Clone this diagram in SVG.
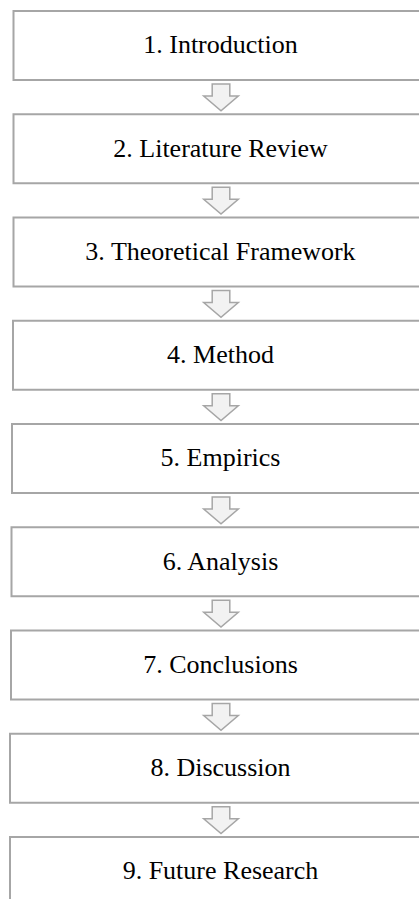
<svg xmlns="http://www.w3.org/2000/svg" width="419" height="899" viewBox="0 0 419 899">
<defs>
<style>
.box{fill:#ffffff;stroke:#a6a6a6;stroke-width:2}
.lbl{font-family:"Liberation Serif","Times New Roman",serif;font-size:26px;fill:#000000;text-anchor:middle}
.arr{fill:#f2f2f2;stroke:#a6a6a6;stroke-width:1.5;stroke-linejoin:miter}
</style>
<path id="dn" class="arr" d="M-8.8,0 H8.8 V12 H17.3 L0,26.7 L-17.3,12 H-8.8 Z"/>
</defs>
<rect width="419" height="899" fill="#ffffff"/>
<g id="connectors">
<use href="#dn" x="221" y="84"/>
<use href="#dn" x="221" y="187.25"/>
<use href="#dn" x="221" y="290.5"/>
<use href="#dn" x="221" y="393.75"/>
<use href="#dn" x="221" y="497"/>
<use href="#dn" x="221" y="600.25"/>
<use href="#dn" x="221" y="703.5"/>
<use href="#dn" x="221" y="806.75"/>
</g>
<g id="n1"><rect class="box" x="13.5" y="11" width="430" height="69"/><text class="lbl" x="220.5" y="53.3">1. Introduction</text></g>
<g id="n2"><rect class="box" x="13.5" y="114.25" width="430" height="69"/><text class="lbl" x="220.5" y="156.5">2. Literature Review</text></g>
<g id="n3"><rect class="box" x="13.5" y="217.5" width="430" height="69"/><text class="lbl" x="220.5" y="259.8">3. Theoretical Framework</text></g>
<g id="n4"><rect class="box" x="13" y="320.75" width="430" height="69"/><text class="lbl" x="220.5" y="363">4. Method</text></g>
<g id="n5"><rect class="box" x="12" y="424" width="430" height="69"/><text class="lbl" x="220.5" y="466.3">5. Empirics</text></g>
<g id="n6"><rect class="box" x="11.5" y="527.25" width="430" height="69"/><text class="lbl" x="220.5" y="569.5">6. Analysis</text></g>
<g id="n7"><rect class="box" x="11" y="630.5" width="430" height="69"/><text class="lbl" x="220.5" y="672.8">7. Conclusions</text></g>
<g id="n8"><rect class="box" x="10" y="733.75" width="430" height="69"/><text class="lbl" x="220.5" y="776">8. Discussion</text></g>
<g id="n9"><rect class="box" x="10" y="837" width="430" height="69"/><text class="lbl" x="220.5" y="879.3">9. Future Research</text></g>
</svg>
